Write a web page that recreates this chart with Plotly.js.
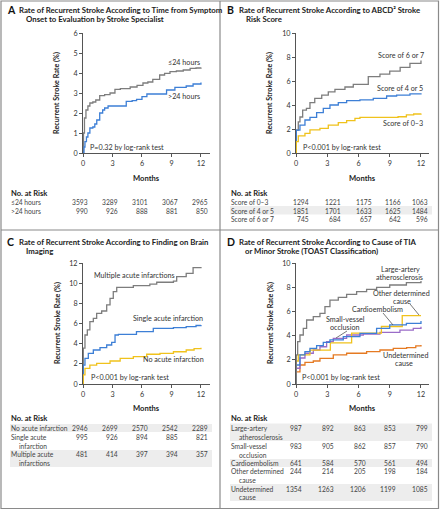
<!DOCTYPE html>
<html><head><meta charset="utf-8">
<script src="https://cdn.plot.ly/plotly-3.0.1.min.js"></script>
<style>html,body{margin:0;padding:0;background:#fff}#c{width:440px;height:511px}</style>
</head><body><div id="c"></div>
<script>
// ---------- DATA ----------
const tickMonths = [0, 3, 6, 9, 12];

// Panel A
const monthsA_early = [0, 0.05, 0.15, 0.3, 0.5, 0.7, 1.0, 1.3, 1.7, 2.2, 2.75, 3.25, 3.8, 4.8, 5.5, 6.1, 6.6, 7.1, 7.8, 8.3, 8.85, 9.5, 10.2, 10.9, 11.5, 12];
const rateA_early   = [0, 1.0, 1.75, 2.15, 2.35, 2.5, 2.55, 2.65, 2.87, 2.92, 3.0, 3.18, 3.22, 3.3, 3.38, 3.5, 3.55, 3.68, 3.9, 3.98, 4.07, 4.1, 4.15, 4.23, 4.25, 4.27];
const monthsA_late  = [0, 0.1, 0.2, 0.35, 0.5, 0.7, 1.0, 1.2, 1.4, 1.7, 2.0, 2.2, 2.55, 4.1, 4.4, 5.0, 5.45, 6.0, 6.5, 7.8, 8.5, 9.35, 10.5, 11.2, 12];
const rateA_late    = [0, 0.3, 0.57, 0.8, 1.0, 1.25, 1.3, 1.45, 1.65, 2.0, 2.15, 2.25, 2.35, 2.35, 2.58, 2.62, 2.68, 2.82, 2.95, 2.95, 3.15, 3.28, 3.35, 3.45, 3.53];
const riskA_labels = ["≤24 hours", ">24 hours"];
const riskA_early = [3593, 3289, 3101, 3067, 2965];
const riskA_late  = [990, 926, 888, 881, 850];

// Panel B
const monthsB_67 = [0, 0.02, 0.22, 0.38, 0.64, 1.0, 1.34, 1.8, 2.47, 3.1, 3.74, 4.7, 5.5, 6.8, 6.94, 8.06, 9.0, 10.0, 10.94, 12];
const rateB_67   = [0, 1.9, 2.6, 3.0, 3.58, 3.72, 4.2, 4.55, 4.83, 5.1, 5.3, 5.5, 5.72, 5.72, 6.36, 6.58, 6.83, 7.14, 7.47, 7.7];
const monthsB_45 = [0, 0.03, 0.38, 0.86, 1.34, 1.98, 2.62, 3.26, 4.06, 4.86, 6.14, 7.42, 8.7, 9.66, 10.94, 12];
const rateB_45   = [0, 1.9, 2.33, 2.75, 2.97, 3.36, 3.72, 4.0, 4.2, 4.36, 4.42, 4.55, 4.75, 4.83, 4.92, 4.97];
const monthsB_03 = [0, 0.03, 0.22, 0.86, 1.34, 2.3, 3.1, 4.06, 4.86, 5.66, 6.14, 9.0, 9.8, 10.6, 11.3, 12];
const rateB_03   = [0, 0.95, 1.42, 1.64, 1.92, 2.06, 2.33, 2.53, 2.69, 2.89, 2.97, 2.97, 3.02, 3.17, 3.25, 3.3];
const riskB_labels = ["Score of 0–3", "Score of 4 or 5", "Score of 6 or 7"];
const riskB_03 = [1294, 1221, 1175, 1166, 1063];
const riskB_45 = [1851, 1701, 1633, 1625, 1484];
const riskB_67 = [745, 684, 657, 642, 596];

// Panel C
const monthsC_multi = [0, 0.03, 0.2, 0.44, 0.7, 1.05, 1.39, 1.9, 2.41, 2.75, 3.08, 3.43, 4.78, 5.12, 6.8, 7.5, 9.2, 9.53, 10.5, 11.2, 12];
const rateC_multi   = [0, 3.55, 4.86, 5.36, 6.18, 6.5, 7.0, 7.24, 7.84, 8.5, 9.16, 9.59, 9.59, 9.75, 9.9, 10.09, 10.2, 10.64, 10.98, 11.54, 11.6];
const monthsC_single = [0, 0.03, 0.2, 0.54, 1.05, 1.73, 2.41, 2.92, 3.26, 3.6, 5.1, 5.44, 6.8, 7.15, 9.2, 10.5, 11.5, 12];
const rateC_single   = [0, 1.88, 2.55, 3.04, 3.37, 3.6, 3.87, 4.13, 4.86, 4.93, 4.93, 5.19, 5.2, 5.52, 5.59, 5.69, 5.8, 5.85];
const monthsC_none = [0, 0.03, 0.2, 0.7, 1.39, 2.75, 3.78, 5.12, 6.48, 7.83, 9.2, 10.5, 11.3, 12];
const rateC_none   = [0, 0.9, 1.55, 1.88, 2.05, 2.28, 2.55, 2.71, 2.95, 3.04, 3.2, 3.37, 3.5, 3.6];
const riskC_labels = [["No acute infarction"], ["Single acute", "infarction"], ["Multiple acute", "infarctions"]];
const riskC_none   = [2946, 2699, 2570, 2542, 2289];
const riskC_single = [995, 926, 894, 885, 821];
const riskC_multi  = [481, 414, 397, 394, 357];

// Panel D
const monthsD_large = [0, 0.03, 0.16, 0.38, 0.7, 1.02, 1.66, 2.3, 2.78, 3.26, 4.06, 4.86, 5.82, 6.78, 7.74, 9.0, 10.6, 12];
const rateD_large   = [0, 2.4, 3.5, 4.05, 4.6, 5.29, 5.56, 5.84, 6.39, 6.94, 7.16, 7.41, 7.63, 7.82, 7.99, 8.18, 8.37, 8.51];
const monthsD_cardio = [0, 0.03, 0.38, 0.86, 1.34, 1.98, 2.62, 3.26, 4.54, 6.14, 7.74, 9.0, 10.6, 12];
const rateD_cardio   = [0, 1.57, 2.4, 2.67, 2.95, 3.17, 3.44, 3.64, 3.91, 4.19, 4.6, 4.88, 5.01, 5.2];
const monthsD_other = [0, 0.03, 0.22, 1.34, 3.3, 5.34, 8.2, 10.2, 12];
const rateD_other   = [0, 1.9, 2.4, 2.8, 3.4, 4.2, 4.75, 5.65, 5.65];
const monthsD_small = [0, 0.03, 0.38, 0.86, 1.66, 2.3, 2.94, 3.58, 4.86, 6.46, 8.06, 9.98, 11.26, 12];
const rateD_small   = [0, 1.3, 2.15, 2.54, 2.81, 3.08, 3.5, 3.77, 4.05, 4.13, 4.27, 4.46, 4.6, 4.74];
const monthsD_undet = [0, 0.03, 0.38, 0.86, 1.66, 2.3, 3.58, 4.86, 6.78, 8.06, 9.34, 10.62, 11.5, 12];
const rateD_undet   = [0, 1.0, 1.57, 1.79, 1.9, 2.12, 2.4, 2.54, 2.67, 2.81, 2.95, 3.0, 3.15, 3.22];
const riskD_labels = [["Large-artery", "atherosclerosis"], ["Small-vessel", "occlusion"], ["Cardioembolism"], ["Other determined", "cause"], ["Undetermined", "cause"]];
const riskD_large  = [987, 892, 863, 853, 799];
const riskD_small  = [983, 905, 862, 857, 790];
const riskD_cardio = [641, 584, 570, 561, 494];
const riskD_other  = [244, 214, 205, 198, 184];
const riskD_undet  = [1354, 1263, 1206, 1199, 1085];

// ---------- STYLE ----------
const W = 440, H = 511;
const X = p => p / W, Y = p => 1 - p / H;
const FONT = "Lato, 'Open Sans', sans-serif";
const GREY = "#7d7d7d", BLUE = "#3d7fd6", YELLOW = "#f0c21c", PURPLE = "#9a6cc8", ORANGE = "#e57a22";

function tr(x, y, color, xa, ya) {
  return {x: x, y: y, type: 'scatter', mode: 'lines', line: {shape: 'hv', color: color, width: 1.3},
          xaxis: xa, yaxis: ya, hoverinfo: 'skip', showlegend: false};
}
const data = [
  tr(monthsA_early, rateA_early, GREY, 'x', 'y'),
  tr(monthsA_late, rateA_late, BLUE, 'x', 'y'),
  tr(monthsB_67, rateB_67, GREY, 'x2', 'y2'),
  tr(monthsB_45, rateB_45, BLUE, 'x2', 'y2'),
  tr(monthsB_03, rateB_03, YELLOW, 'x2', 'y2'),
  tr(monthsC_multi, rateC_multi, GREY, 'x3', 'y3'),
  tr(monthsC_single, rateC_single, BLUE, 'x3', 'y3'),
  tr(monthsC_none, rateC_none, YELLOW, 'x3', 'y3'),
  tr(monthsD_undet, rateD_undet, ORANGE, 'x4', 'y4'),
  tr(monthsD_small, rateD_small, PURPLE, 'x4', 'y4'),
  tr(monthsD_other, rateD_other, YELLOW, 'x4', 'y4'),
  tr(monthsD_cardio, rateD_cardio, BLUE, 'x4', 'y4'),
  tr(monthsD_large, rateD_large, GREY, 'x4', 'y4')
];

function xax(x0, x1, rmax, anchor) {
  return {domain: [X(x0), X(x1)], range: [0, rmax], tickvals: tickMonths, ticks: 'outside', ticklen: 3,
          tickwidth: 1, tickcolor: '#555', showline: true, linecolor: '#555', linewidth: 1, showgrid: false,
          zeroline: false, tickfont: {family: FONT, size: 7.2, color: '#333'}, anchor: anchor, fixedrange: true};
}
function yax(yb, yt, rmax, dt, anchor) {
  return {domain: [Y(yb), Y(yt)], range: [0, rmax], dtick: dt, tick0: 0, ticks: 'outside', ticklen: 3,
          tickwidth: 1, tickcolor: '#555', showline: true, linecolor: '#555', linewidth: 1, showgrid: false,
          zeroline: false, tickfont: {family: FONT, size: 7.2, color: '#333'}, anchor: anchor, fixedrange: true};
}

const ann = [];
function T(text, x, y, o) {
  o = o || {};
  ann.push({text: text, x: X(x), y: Y(y), xref: 'paper', yref: 'paper', showarrow: false,
            xanchor: o.xa || 'left', yanchor: 'middle', textangle: o.angle || 0, borderpad: 0,
            font: {family: FONT, size: o.size || 7.2, color: o.color || '#333', weight: o.weight || 'normal'}});
}
function title(letter, l1, l2, lx, ty, l2x) {
  T(letter, lx, ty, {size: 10.5, weight: 'bold', color: '#111'});
  T(l1, lx + 12, ty, {size: 7.8, weight: 'bold', color: '#222'});
  T(l2, l2x, ty + 9, {size: 7.8, weight: 'bold', color: '#222'});
}
title("A", "Rate of Recurrent Stroke According to Time from Symptom", "Onset to Evaluation by Stroke Specialist", 6, 10, 25);
title("B", "Rate of Recurrent Stroke According to ABCD² Stroke", "Risk Score", 226, 10, 245);
title("C", "Rate of Recurrent Stroke According to Finding on Brain", "Imaging", 6, 242, 25);
title("D", "Rate of Recurrent Stroke According to Cause of TIA", "or Minor Stroke (TOAST Classification)", 226, 242, 244);

// axis titles
[[57, 93], [270, 93], [57, 323], [270, 323]].forEach(p =>
  T("Recurrent Stroke Rate (%)", p[0], p[1], {xa: 'center', angle: -90, weight: 'bold', size: 7.2, color: '#222'}));
[[146, 178], [362, 178], [146, 408], [362, 408]].forEach(p =>
  T("Months", p[0], p[1], {xa: 'center', weight: 'bold', size: 7.6, color: '#222'}));

// curve labels
T("≤24 hours", 167, 62); T(">24 hours", 167, 96);
T("P=0.32 by log-rank test", 89, 147);
T("Score of 6 or 7", 377, 55); T("Score of 4 or 5", 376, 89); T("Score of 0–3", 382, 123);
T("P<0.001 by log-rank test", 302, 147);
T("Multiple acute infarctions", 93, 275); T("Single acute infarction", 132, 318); T("No acute infarction", 142, 359);
T("P<0.001 by log-rank test", 90, 377);
T("Large-artery", 400, 269, {xa: 'center'}); T("atherosclerosis", 399, 277, {xa: 'center'});
T("Other determined", 401, 293, {xa: 'center'}); T("cause", 402, 301, {xa: 'center'});
T("Cardioembolism", 377, 309, {xa: 'center'});
T("Small-vessel", 345, 319, {xa: 'center'}); T("occlusion", 345, 327, {xa: 'center'});
T("Undetermined", 405, 355, {xa: 'center'}); T("cause", 404, 363, {xa: 'center'});
T("P<0.001 by log-rank test", 301, 377);

// risk tables
const colA = [89, 119, 149, 179, 209], colB = [310, 342, 373, 402, 429];
const colD = [303, 335, 367, 397, 429];
const TS = 6.7;
function riskRow(lines, nums, lx, y, cols) {
  lines.forEach((s, i) => T(s, lx + (i ? 8 : 0), y + i * 8.5, {color: '#444', size: TS}));
  nums.forEach((n, i) => T(String(n), cols[i], y, {xa: 'right', color: '#444', size: TS}));
}
T("No. at Risk", 10, 193, {weight: 'bold', size: 7.6, color: '#222'});
riskRow([riskA_labels[0]], riskA_early, 10, 202, colA);
riskRow([riskA_labels[1]], riskA_late, 10, 211, colA);
T("No. at Risk", 230, 193, {weight: 'bold', size: 7.6, color: '#222'});
riskRow([riskB_labels[0]], riskB_03, 230, 202, colB);
riskRow([riskB_labels[1]], riskB_45, 230, 210.5, colB);
riskRow([riskB_labels[2]], riskB_67, 230, 219, colB);
T("No. at Risk", 10, 418, {weight: 'bold', size: 7.6, color: '#222'});
riskRow(riskC_labels[0], riskC_none, 10, 428, colA);
riskRow(riskC_labels[1], riskC_single, 10, 437, colA);
riskRow(riskC_labels[2], riskC_multi, 10, 454, colA);
T("No. at Risk", 230, 418, {weight: 'bold', size: 7.6, color: '#222'});
riskRow(riskD_labels[0], riskD_large, 230, 428, colD);
riskRow(riskD_labels[1], riskD_small, 230, 446, colD);
riskRow(riskD_labels[2], riskD_cardio, 230, 463, colD);
riskRow(riskD_labels[3], riskD_other, 230, 471, colD);
riskRow(riskD_labels[4], riskD_undet, 230, 488.5, colD);

// shapes
const shapes = [];
function band(x0, x1, y0, y1) {
  shapes.push({type: 'rect', xref: 'paper', yref: 'paper', x0: X(x0), x1: X(x1), y0: Y(y1), y1: Y(y0),
               fillcolor: '#ededed', line: {width: 0}, layer: 'below'});
}
band(230, 432, 206, 214.5);
band(10, 212, 424, 432); band(10, 212, 450, 467);
band(230, 432, 423.5, 441); band(230, 432, 459, 467); band(230, 432, 484, 501);
function seg(x0, y0, x1, y1, c, w) {
  shapes.push({type: 'line', xref: 'paper', yref: 'paper', x0: X(x0), y0: Y(y0), x1: X(x1), y1: Y(y1),
               line: {color: c || '#555', width: w || 0.8}});
}
seg(410, 304, 419, 315); seg(383, 313, 393, 325); seg(347, 331, 336, 338);
// panel frames
shapes.push({type: 'rect', xref: 'paper', yref: 'paper', x0: X(1), x1: X(438.5), y0: Y(508.5), y1: Y(1),
             line: {color: '#8a8a8a', width: 1.2}});
seg(220, 1, 220, 508.5, '#8a8a8a', 1.2);
seg(1, 230, 438.5, 230, '#8a8a8a', 1.2);

const layout = {
  width: W, height: H, margin: {l: 0, r: 0, t: 0, b: 0}, paper_bgcolor: '#fff', plot_bgcolor: 'rgba(0,0,0,0)',
  showlegend: false, font: {family: FONT},
  xaxis: xax(83, 210, 12.92, 'y'), yaxis: yax(153, 33, 6, 1, 'x'),
  xaxis2: xax(296, 429, 12.77, 'y2'), yaxis2: yax(153, 33, 10, 2, 'x2'),
  xaxis3: xax(83, 210, 12.92, 'y3'), yaxis3: yax(384, 263, 12, 2, 'x3'),
  xaxis4: xax(296, 429, 12.77, 'y4'), yaxis4: yax(384, 263, 10, 2, 'x4'),
  annotations: ann, shapes: shapes
};
Plotly.newPlot('c', data, layout, {displayModeBar: false, staticPlot: true});
</script></body></html>
